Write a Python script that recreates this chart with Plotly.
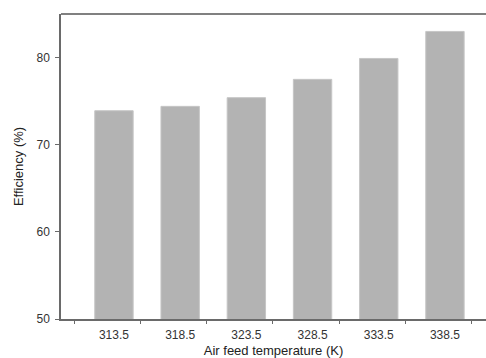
import plotly.graph_objects as go

categories = ["313.5", "318.5", "323.5", "328.5", "333.5", "338.5"]
temps = [313.5, 318.5, 323.5, 328.5, 333.5, 338.5]
efficiency = [73.9, 74.4, 75.4, 77.5, 79.9, 83.0]
y_ticks = [50, 60, 70, 80]
x_minor_ticks = [310.5, 315.5, 320.5, 325.5, 330.5, 335.5, 340.5]

AX = "#6a6a6a"
TXT = "#333333"

fig = go.Figure(go.Bar(
    x=temps, y=efficiency,
    marker=dict(color="#b3b3b3", line=dict(color="#c6c6c6", width=1)),
    width=2.9,
))
fig.add_trace(go.Scatter(x=[temps[0]], y=[efficiency[0]], xaxis="x2", mode="markers",
                         marker=dict(opacity=0), hoverinfo="skip"))

xr = [309.5, 341.6]
fig.update_layout(
    width=486, height=358,
    margin=dict(l=61, r=0, t=14, b=39),
    plot_bgcolor="white", paper_bgcolor="white",
    font=dict(family="Liberation Sans, Arial, sans-serif", size=12, color=TXT),
    showlegend=False,
    xaxis=dict(
        range=xr, tickvals=temps, ticktext=categories,
        showline=True, linecolor=AX, linewidth=1.5,
        ticks="outside", ticklen=4, tickcolor="rgba(0,0,0,0)",
        showgrid=False, zeroline=False,
        title=dict(text="Air feed temperature (K)", font=dict(size=13, color="#222222"), standoff=6),
        tickfont=dict(size=12, color=TXT),
    ),
    xaxis2=dict(
        range=xr, overlaying="x", anchor="y", side="bottom",
        tickvals=x_minor_ticks, showticklabels=False,
        ticks="outside", ticklen=4, tickcolor=AX, tickwidth=1,
        showline=False, showgrid=False, zeroline=False,
    ),
    yaxis=dict(
        range=[50, 85], tickvals=y_ticks,
        showline=True, linecolor=AX, linewidth=1.5,
        ticks="outside", ticklen=4, tickcolor=AX,
        showgrid=False, zeroline=False,
        ticklabelstandoff=3,
        title=dict(text="Efficiency (%)", font=dict(size=13, color="#222222"), standoff=10),
        tickfont=dict(size=12, color=TXT),
    ),
    shapes=[dict(type="line", xref="paper", yref="paper", x0=0, x1=1, y0=1, y1=1,
                 line=dict(color="#808080", width=2))],
)

fig.write_html("out.html", config={"displayModeBar": False})
